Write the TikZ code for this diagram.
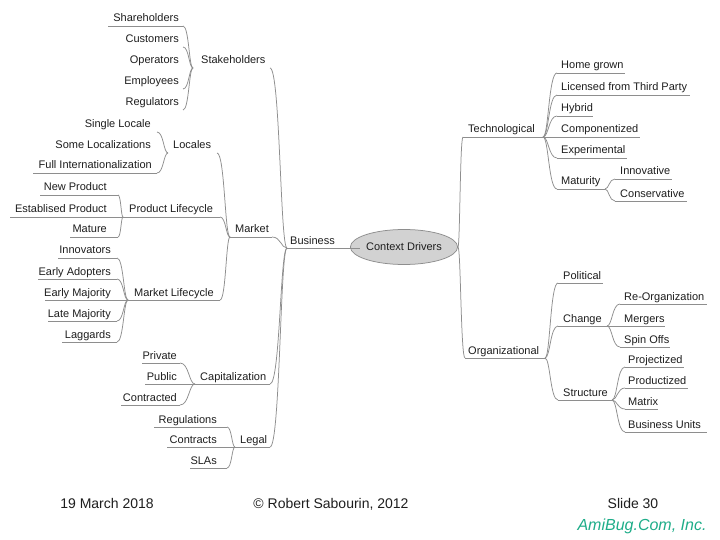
\documentclass[tikz,border=0pt]{standalone}
\usepackage{fontspec}
\setmainfont{Liberation Sans}
\usetikzlibrary{calc,shapes.geometric}
\definecolor{lc}{HTML}{8E8E8E}
\definecolor{tc}{HTML}{1E1E1E}
\definecolor{ctxfill}{HTML}{D2D2D2}
\definecolor{amiteal}{HTML}{1EAD89}
\tikzset{
  lab/.style={font=\fontsize{11}{13}\selectfont, text=tc, inner sep=0pt},
  foot/.style={font=\fontsize{14}{16}\selectfont, text=tc, inner sep=0pt, anchor=base},
  ul/.style={draw=lc, line width=0.75pt},
  noul/.style={draw=none},
  conn/.style={draw=lc, line width=0.75pt,
    to path={let \p1=(\tikztostart), \p2=(\tikztotarget) in
      .. controls ($(\p1)!0.4!(\x2,\y1)$) and ($(\x1,\y2)!0.4!(\p2)$) .. (\p2)}},
}
% [underline style] name, x1, x2, yu, text end, text
\newcommand\LItem[7][ul]{%
  \coordinate (#2-l) at (#3,#5);
  \coordinate (#2-r) at (#4,#5);
  \node[lab, anchor=base east] (#2) at (#6,#5-4) {#7};
  \draw[#1] (#2-l) -- (#2-r);
}
% [underline style] name, x1, x2, yu, text start, text
\newcommand\RItem[7][ul]{%
  \coordinate (#2-l) at (#3,#5);
  \coordinate (#2-r) at (#4,#5);
  \node[lab, anchor=base west] (#2) at (#6,#5-4) {#7};
  \draw[#1] (#2-l) -- (#2-r);
}
\begin{document}
\begin{tikzpicture}[x=1pt,y=-1pt]
\useasboundingbox[fill=white] (0,0) rectangle (720,540);

% ---------- Stakeholders ----------
\LItem{sh}{108}{183}{26}{179}{Shareholders}
\LItem[noul]{cu}{120}{183}{47}{179}{Customers}
\LItem[noul]{op}{127}{193}{68}{179}{Operators}
\LItem[noul]{em}{120}{183}{89}{179}{Employees}
\LItem[noul]{rg}{131}{183}{110}{179}{Regulators}
\RItem[noul]{stk}{193}{270}{68}{201}{Stakeholders}
\foreach \c in {sh,cu,em,rg} \draw[conn] (stk-l) to (\c-r);

% ---------- Locales ----------
\LItem[noul]{sl}{80}{157}{132}{151}{Single Locale}
\LItem[noul]{slz}{50}{168}{153}{151}{Some Localizations}
\LItem{fi}{33}{157}{173}{152}{Full Internationalization}
\RItem[noul]{loc}{168}{217}{153}{173}{Locales}
\foreach \c in {sl,fi} \draw[conn] (loc-l) to (\c-r);

% ---------- Product Lifecycle ----------
\LItem{np}{40}{118}{195}{107}{New Product}
\LItem{ep}{10}{123}{217}{107}{Establised Product}
\LItem{ma}{70}{118}{237}{107}{Mature}
\RItem{pl}{123}{220}{217}{129}{Product Lifecycle}
\foreach \c in {np,ma} \draw[conn] (pl-l) to (\c-r);

% ---------- Market Lifecycle ----------
\LItem{in}{58}{117}{258}{111}{Innovators}
\LItem{ea}{38}{117}{279}{111}{Early Adopters}
\LItem{emj}{45}{128}{300}{111}{Early Majority}
\LItem{lm}{48}{117}{321}{111}{Late Majority}
\LItem{lg}{62}{117}{342}{111}{Laggards}
\RItem{ml}{128}{220}{300}{134}{Market Lifecycle}
\foreach \c in {in,ea,lm,lg} \draw[conn] (ml-l) to (\c-r);

% ---------- Market ----------
\RItem{mk}{230}{272}{237}{235}{Market}
\foreach \c in {loc,pl,ml} \draw[conn] (mk-l) to (\c-r);

% ---------- Capitalization ----------
\LItem{pv}{142}{180}{363}{177}{Private}
\LItem{pb}{145}{195}{384}{177}{Public}
\LItem{ct}{121}{180}{405}{177}{Contracted}
\RItem{cap}{195}{270}{384}{200}{Capitalization}
\foreach \c in {pv,ct} \draw[conn] (cap-l) to (\c-r);

% ---------- Legal ----------
\LItem{rgl}{154}{227}{427}{217}{Regulations}
\LItem{con}{167}{235}{447}{217}{Contracts}
\LItem{sla}{190}{227}{468}{217}{SLAs}
\RItem{leg}{235}{270}{447}{240}{Legal}
\foreach \c in {rgl,sla} \draw[conn] (leg-l) to (\c-r);

% ---------- Centre ----------
\node[lab, ellipse, draw=lc, line width=0.75pt, fill=ctxfill,
      minimum width=88, minimum height=35] (ctx) at (404,247) {Context Drivers};
\RItem{bus}{287}{360}{248}{290}{Business}
\foreach \c in {stk,mk,cap,leg} \draw[conn] (bus-l) to (\c-r);

% ---------- Technological ----------
\RItem{tec}{463}{543}{137}{468}{Technological}
\draw[conn] (ctx.east) to (tec-l);
\RItem{hg}{557}{625}{73}{561}{Home grown}
\RItem{lic}{557}{690}{95}{561}{Licensed from Third Party}
\RItem{hy}{557}{593}{116}{561}{Hybrid}
\RItem{cp}{543}{640}{137}{561}{Componentized}
\RItem{ex}{557}{627}{158}{561}{Experimental}
\RItem{mat}{557}{605}{189}{561}{Maturity}
\foreach \c in {hg,lic,hy,ex,mat} \draw[conn] (tec-r) to (\c-l);
\RItem{inv}{615}{672}{179}{620}{Innovative}
\RItem{cns}{615}{687}{201}{620}{Conservative}
\foreach \c in {inv,cns} \draw[conn] (mat-r) to (\c-l);

% ---------- Organizational ----------
\RItem{org}{465}{545}{358}{468}{Organizational}
\draw[conn] (ctx.east) to (org-l);
\RItem{pol}{558}{603}{283}{563}{Political}
\RItem{chg}{558}{607}{326}{563}{Change}
\RItem{str}{558}{612}{400}{563}{Structure}
\foreach \c in {pol,chg,str} \draw[conn] (org-r) to (\c-l);
\RItem{reo}{620}{707}{304}{624}{Re-Organization}
\RItem{mer}{607}{665}{326}{624}{Mergers}
\RItem{spo}{620}{670}{347}{624}{Spin Offs}
\foreach \c in {reo,spo} \draw[conn] (chg-r) to (\c-l);
\RItem{prj}{625}{684}{367}{628}{Projectized}
\RItem{prd}{625}{688}{388}{628}{Productized}
\RItem{mtx}{625}{658}{409}{628}{Matrix}
\RItem{bu}{625}{707}{432}{628}{Business Units}
\foreach \c in {prj,prd,mtx,bu} \draw[conn] (str-r) to (\c-l);

% ---------- Footer ----------
\node[foot] (date) at (107,508) {19 March 2018};
\node[foot] (copy) at (331,508) {© Robert Sabourin, 2012};
\node[foot] (slide) at (633,508) {Slide 30};
\node[foot, font=\fontsize{16}{18}\selectfont\itshape, text=amiteal] (ami) at (642,530) {AmiBug.Com, Inc.};
\end{tikzpicture}
\end{document}
